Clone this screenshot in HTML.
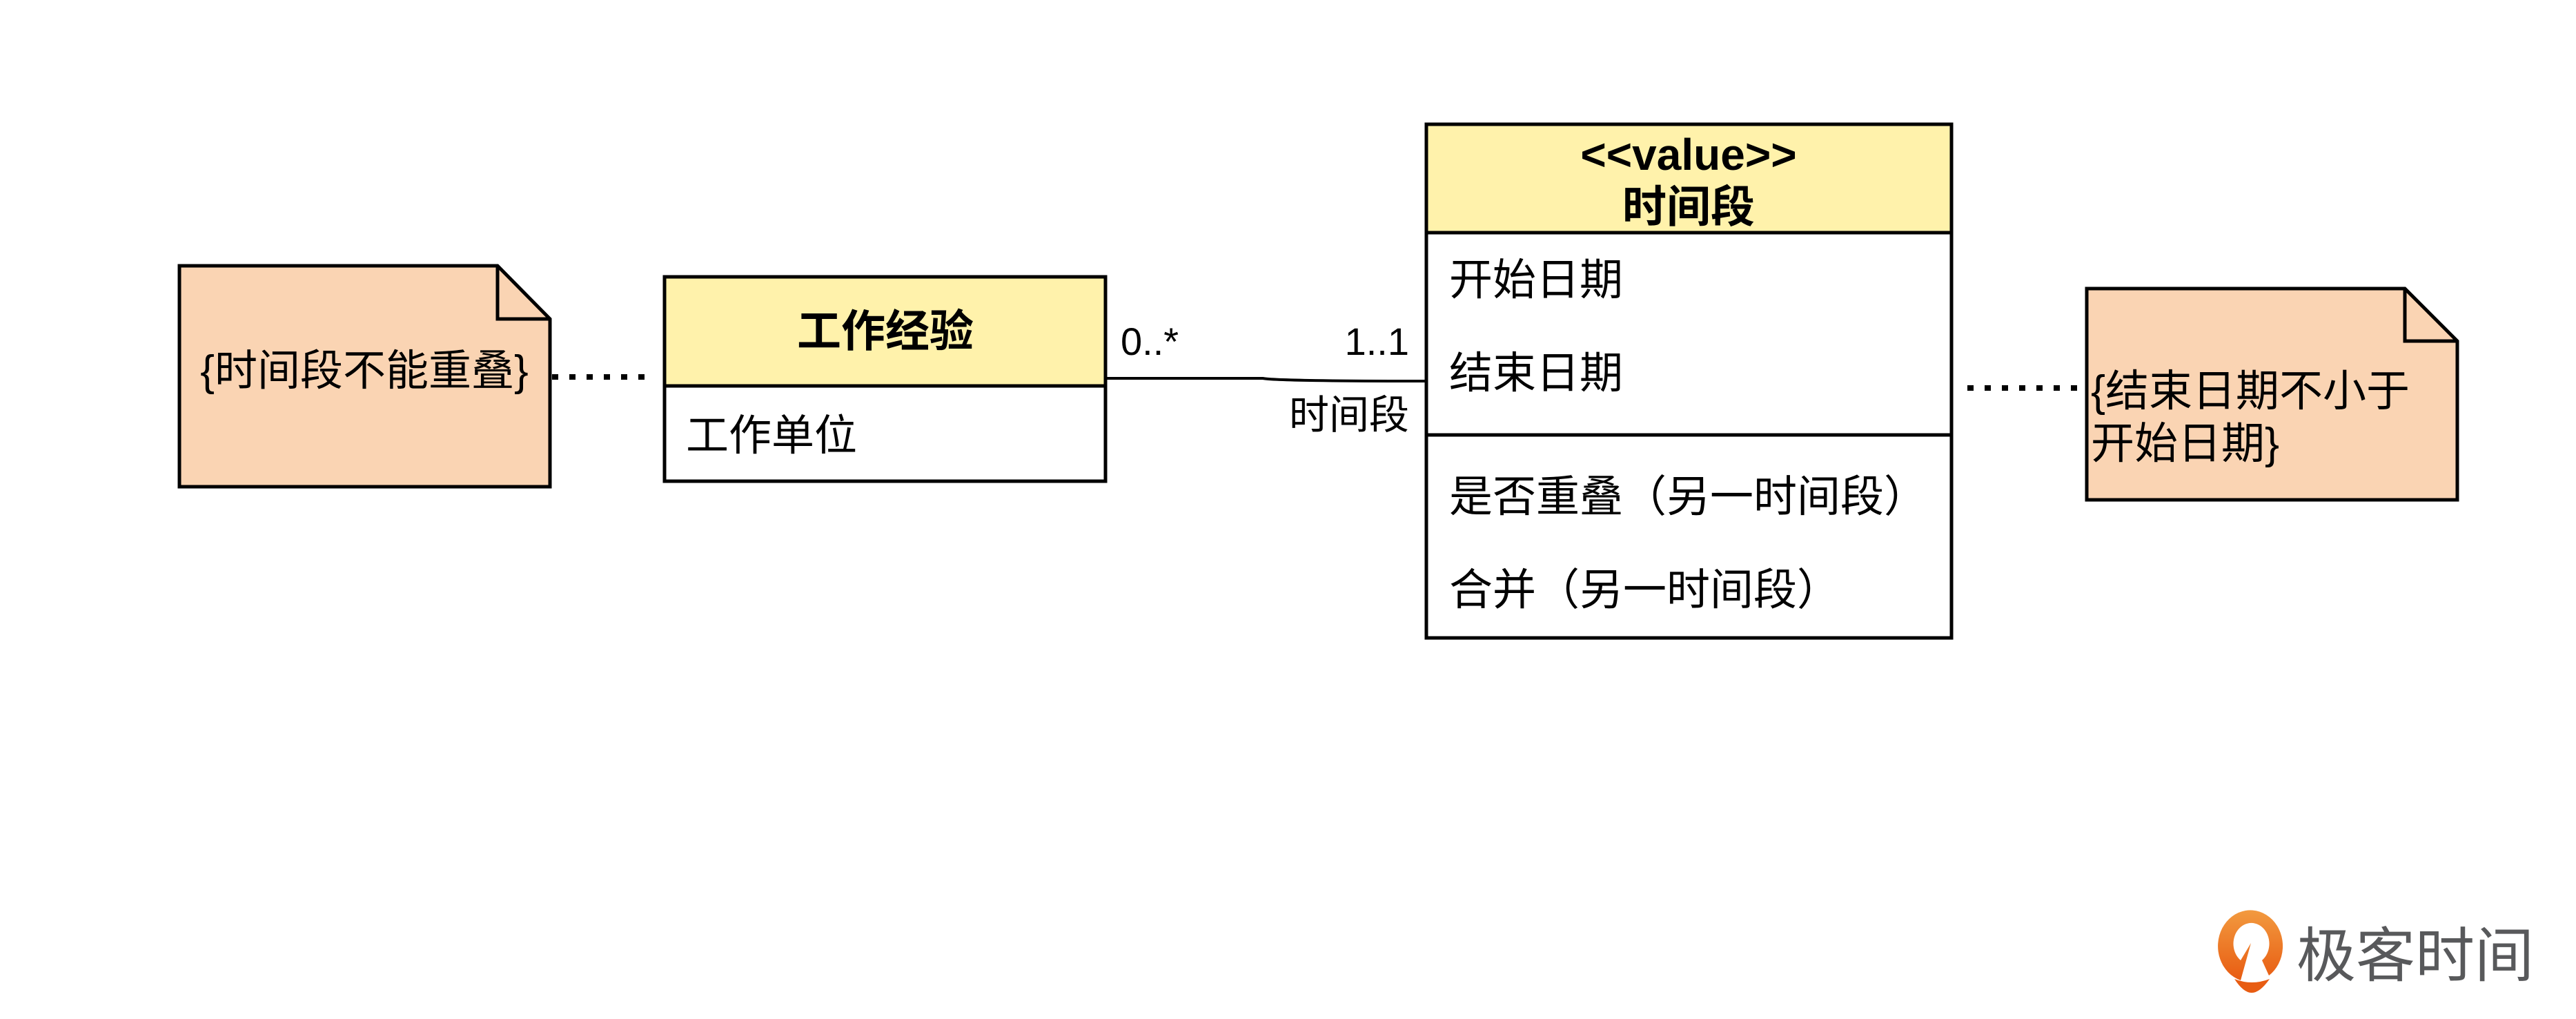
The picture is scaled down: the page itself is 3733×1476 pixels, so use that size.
<!DOCTYPE html>
<html><head><meta charset="utf-8"><style>
html,body{margin:0;padding:0;background:#fff;}
svg{display:block;}
text{font-family:"Liberation Sans","Noto Sans CJK SC",sans-serif;fill:#000;}
</style></head><body>
<svg width="3733" height="1476" viewBox="0 0 3733 1476" xmlns="http://www.w3.org/2000/svg">
<path d="M260,385 H721 L797,462 V705 H260 Z" fill="#fad4b3" stroke="#000" stroke-width="5"/>
<path d="M721,385 V462 H797" fill="none" stroke="#000" stroke-width="5"/>
<text x="528" y="558" font-size="62" text-anchor="middle">{时间段不能重叠}</text>
<line x1="800" y1="546" x2="940" y2="546" stroke="#000" stroke-width="8" stroke-dasharray="9,16"/>
<rect x="963" y="401" width="639" height="158" fill="#fff2ab" stroke="#000" stroke-width="5"/>
<rect x="963" y="559" width="639" height="138" fill="#fff" stroke="#000" stroke-width="5"/>
<text x="1283" y="502" font-size="64" font-weight="bold" text-anchor="middle">工作经验</text>
<text x="994" y="652" font-size="62">工作单位</text>
<path d="M1602,548 L1830,548 Q1850,552 2066,552" fill="none" stroke="#000" stroke-width="4"/>
<text x="1624" y="514" font-size="56">0..*</text>
<text x="2042" y="514" font-size="56" text-anchor="end">1..1</text>
<text x="2042" y="621" font-size="58" text-anchor="end">时间段</text>
<rect x="2067" y="180" width="761" height="157" fill="#fff2ab" stroke="#000" stroke-width="5"/>
<rect x="2067" y="337" width="761" height="587" fill="#fff" stroke="#000" stroke-width="5"/>
<line x1="2067" y1="630" x2="2828" y2="630" stroke="#000" stroke-width="5"/>
<text x="2447" y="246" font-size="64" font-weight="bold" text-anchor="middle">&lt;&lt;value&gt;&gt;</text>
<text x="2447" y="322" font-size="64" font-weight="bold" text-anchor="middle">时间段</text>
<text x="2100" y="427" font-size="63">开始日期</text>
<text x="2100" y="562" font-size="63">结束日期</text>
<text x="2100" y="741" font-size="63">是否重叠（另一时间段）</text>
<text x="2100" y="876" font-size="63">合并（另一时间段）</text>
<line x1="2851" y1="562" x2="3024" y2="562" stroke="#000" stroke-width="8" stroke-dasharray="9,16"/>
<path d="M3024,418 H3485 L3561,494 V724 H3024 Z" fill="#fad4b3" stroke="#000" stroke-width="5"/>
<path d="M3485,418 V494 H3561" fill="none" stroke="#000" stroke-width="5"/>
<text x="3030" y="588" font-size="63">{结束日期不小于</text>
<text x="3030" y="664" font-size="63">开始日期}</text>
<defs><linearGradient id="g" x1="0" y1="0" x2="0" y2="1"><stop offset="0" stop-color="#f29a3f"/><stop offset="1" stop-color="#e85c12"/></linearGradient></defs>
<path d="M3247,1420 A47,52 0 1 1 3288,1413 L3278,1391 A26,30 0 1 0 3247,1391 L3262,1366 Z" fill="url(#g)"/>
<path d="M3238,1418 Q3263,1428 3289,1418 Q3275,1438 3263,1438 Q3251,1438 3238,1418 Z" fill="#e85c12"/>
<text x="3328" y="1414" font-size="86" style="fill:#58595b">极客时间</text>
</svg>
</body></html>
